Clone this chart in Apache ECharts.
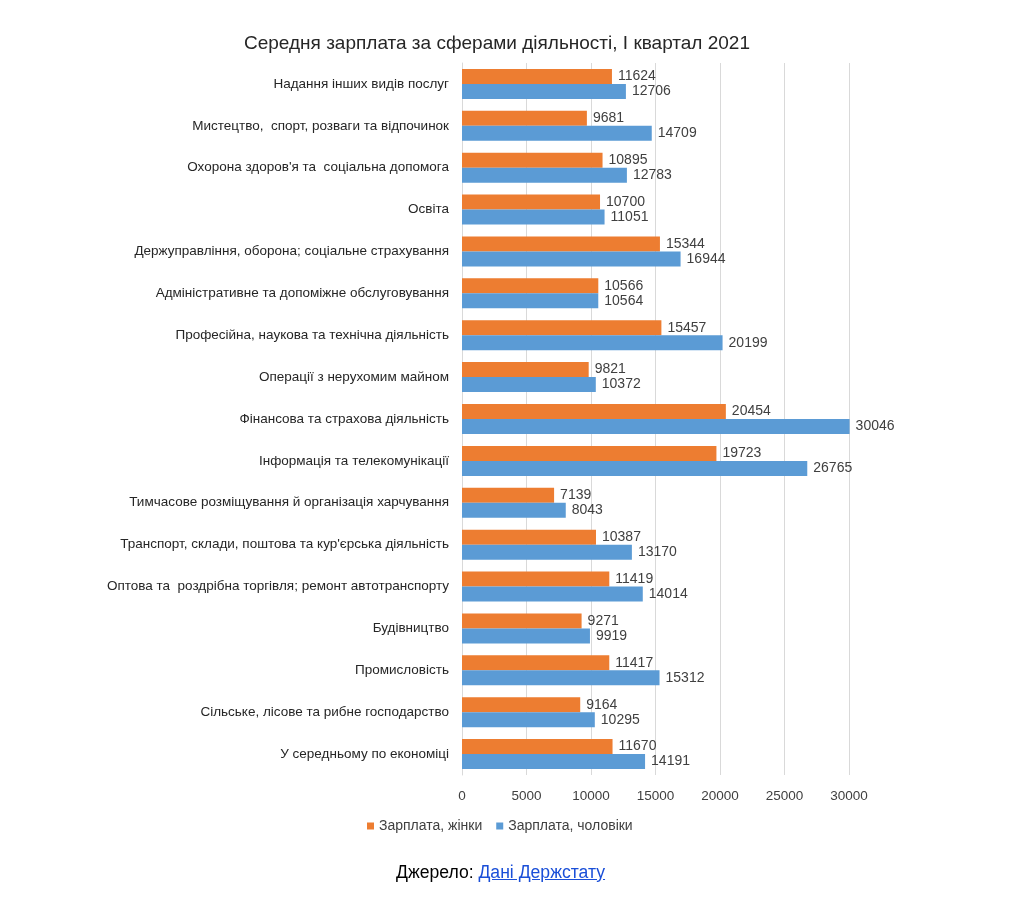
<!DOCTYPE html>
<html>
<head>
<meta charset="utf-8">
<script src="https://cdn.jsdelivr.net/npm/echarts@6/dist/echarts.min.js"></script>
<style>
html,body{margin:0;padding:0;background:#fff;}
#wrap{position:relative;width:1024px;height:900px;}
#chart{width:1024px;height:900px;}
#src{position:absolute;left:0;width:1001px;top:862px;text-align:center;font-family:"Liberation Sans",Arial,sans-serif;font-size:17.6px;color:#000;}
#src a{color:#1a4fd8;text-decoration:underline;}
</style>
</head>
<body>
<div id="wrap">
<div id="chart"></div>
<div id="src">Джерело: <a href="#">Дані Держстату</a></div>
</div>
<script>
const title = 'Середня зарплата за сферами діяльності, I квартал 2021';
const categories = [
  'Надання інших видів послуг',
  'Мистецтво,  спорт, розваги та відпочинок',
  'Охорона здоров\'я та  соціальна допомога',
  'Освіта',
  'Держуправління, оборона; соціальне страхування',
  'Адміністративне та допоміжне обслуговування',
  'Професійна, наукова та технічна діяльність',
  'Операції з нерухомим майном',
  'Фінансова та страхова діяльність',
  'Інформація та телекомунікації',
  'Тимчасове розміщування й організація харчування',
  'Транспорт, склади, поштова та кур\'єрська діяльність',
  'Оптова та  роздрібна торгівля; ремонт автотранспорту',
  'Будівництво',
  'Промисловість',
  'Сільське, лісове та рибне господарство',
  'У середньому по економіці'
];
const women = [11624, 9681, 10895, 10700, 15344, 10566, 15457, 9821, 20454, 19723, 7139, 10387, 11419, 9271, 11417, 9164, 11670];
const men   = [12706, 14709, 12783, 11051, 16944, 10564, 20199, 10372, 30046, 26765, 8043, 13170, 14014, 9919, 15312, 10295, 14191];
const seriesNames = ['Зарплата, жінки', 'Зарплата, чоловіки'];

const font = '"Liberation Sans", Arial, sans-serif';
const chart = echarts.init(document.getElementById('chart'));
chart.setOption({
  animation: false,
  title: {
    text: title,
    left: 492, textAlign: 'center', top: 29,
    textStyle: {fontFamily: font, fontSize: 19, fontWeight: 'normal', color: '#262626'}
  },
  legend: {
    data: seriesNames,
    left: 362, top: 814,
    itemWidth: 7, itemHeight: 7, itemGap: 14,
    icon: 'rect',
    textStyle: {fontFamily: font, fontSize: 14, color: '#404040'}
  },
  grid: {left: 462, right: 175, top: 63, bottom: 125},
  xAxis: {
    type: 'value', min: 0, max: 30000, interval: 5000,
    axisLine: {show: false}, axisTick: {show: false},
    splitLine: {lineStyle: {color: '#d9d9d9'}},
    axisLabel: {fontFamily: font, fontSize: 13.5, color: '#404040', margin: 14, formatter: function (v) { return String(v); }}
  },
  yAxis: {
    type: 'category', data: categories, inverse: true,
    axisLine: {lineStyle: {color: '#d9d9d9'}}, axisTick: {show: false},
    axisLabel: {fontFamily: font, fontSize: 13.5, color: '#262626', margin: 13}
  },
  series: [
    {
      name: seriesNames[0], type: 'bar', data: women, barWidth: 15, barGap: '0%',
      itemStyle: {color: '#ED7D31'}, clip: false,
      label: {show: true, position: 'right', distance: 6, fontFamily: font, fontSize: 14, color: '#404040'}
    },
    {
      name: seriesNames[1], type: 'bar', data: men, barWidth: 15, barGap: '0%',
      itemStyle: {color: '#5B9BD5'}, clip: false,
      label: {show: true, position: 'right', distance: 6, fontFamily: font, fontSize: 14, color: '#404040'}
    }
  ]
});
</script>
</body>
</html>
